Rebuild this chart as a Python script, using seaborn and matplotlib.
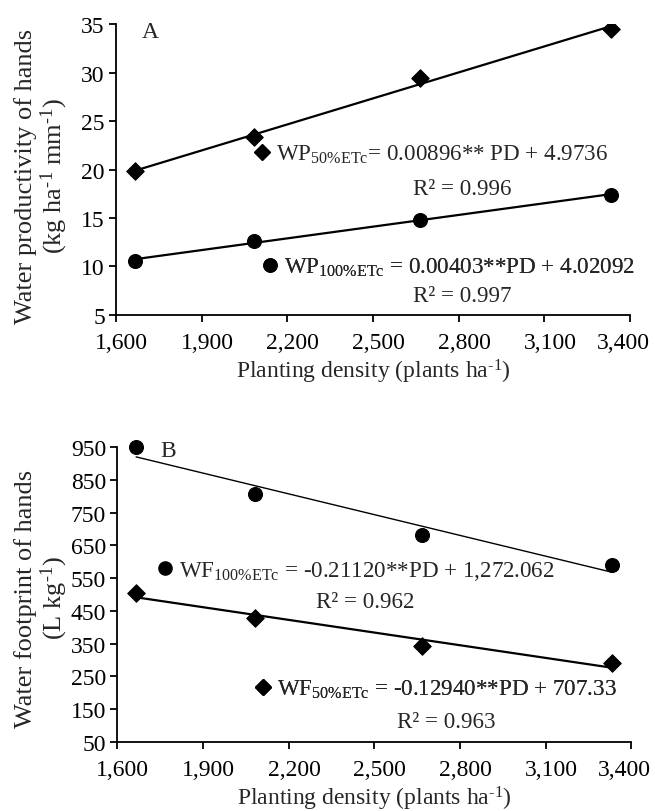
import numpy as np
import pandas as pd
import matplotlib
matplotlib.use("Agg")
import matplotlib.pyplot as plt
from matplotlib.lines import Line2D
from matplotlib.transforms import ScaledTranslation
import seaborn as sns

# ---- data ----
planting_density = [1666, 2083, 2666, 3333]
wp_50 = [19.8, 23.4, 29.4, 34.5]
wp_100 = [10.6, 12.6, 14.8, 17.4]
wf_100 = [950, 808, 681, 591]
wf_50 = [506, 430, 342, 291]

x_ticks = [1600, 1900, 2200, 2500, 2800, 3100, 3400]
x_tick_labels = ["1,600", "1,900", "2,200", "2,500", "2,800", "3,100", "3,400"]
wp_ticks = [5, 10, 15, 20, 25, 30, 35]
wf_ticks = [50, 150, 250, 350, 450, 550, 650, 750, 850, 950]

eq_wp50 = r"WP$_{\mathregular{50\%ETc}}$= 0.00896** PD + 4.9736"
r2_wp50 = "R² = 0.996"
eq_wp100 = r"WP$_{\mathregular{100\%ETc}}$ = 0.00403**PD + 4.02092"
r2_wp100 = "R² = 0.997"
eq_wf100 = r"WF$_{\mathregular{100\%ETc}}$ = -0.21120**PD + 1,272.062"
r2_wf100 = "R² = 0.962"
eq_wf50 = r"WF$_{\mathregular{50\%ETc}}$ = -0.12940**PD + 707.33"
r2_wf50 = "R² = 0.963"

SUP = r"$^{\text{-1}}$"
xlabel_txt = "Planting density (plants ha" + SUP + ")"
ylabel_a = "Water productivity of hands\n(kg ha" + SUP + " mm" + SUP + ")"
ylabel_b = "Water footprint of hands\n(L kg" + SUP + ")"

df = pd.DataFrame({"PD": planting_density, "WP50": wp_50, "WP100": wp_100,
                   "WF100": wf_100, "WF50": wf_50})

sns.set_theme(style="ticks")
plt.rcParams["font.family"] = ["Liberation Serif", "DejaVu Serif"]
plt.rcParams["mathtext.fontset"] = "custom"
plt.rcParams["mathtext.rm"] = "Liberation Serif"
plt.rcParams["mathtext.it"] = "Liberation Serif:italic"
plt.rcParams["mathtext.bf"] = "Liberation Serif:bold"

FS = 17
EQ_FS = 16.6
YL_FS = 19
fig = plt.figure(figsize=(6.55, 8.12), dpi=100)
axA = fig.add_axes([0.177, 0.611, 0.785, 0.358])
axB = fig.add_axes([0.179, 0.085, 0.785, 0.363])

def style_axis(ax):
    sns.despine(ax=ax)
    for s in ["left", "bottom"]:
        ax.spines[s].set_linewidth(1.3)
        ax.spines[s].set_color("black")
    ax.tick_params(axis="both", direction="out", length=5, width=1.3,
                   colors="black", labelsize=FS)
    ax.tick_params(axis="x", pad=7)
    ax.tick_params(axis="y", pad=3)
    ax.set_xlim(1600, 3400)
    ax.set_xticks(x_ticks)
    ax.set_xticklabels(x_tick_labels)
    labels = ax.get_xticklabels()
    for i, lab in enumerate(labels):
        dx = 4 / 72 if i < len(labels) - 1 else -5 / 72
        lab.set_transform(lab.get_transform() + ScaledTranslation(dx, 0, fig.dpi_scale_trans))
    ax.set_facecolor("white")

def add_key(ax, marker, ms, label, anchor):
    h = Line2D([], [], marker=marker, ls="none", color="black", markersize=ms)
    leg = ax.legend([h], [label], loc="center left", bbox_to_anchor=anchor,
                    frameon=False, fontsize=EQ_FS, borderpad=0, borderaxespad=0,
                    handlelength=0.6, handletextpad=0.3)
    ax.add_artist(leg)

# ---- Panel A ----
sns.regplot(data=df, x="PD", y="WP50", ax=axA, ci=None, scatter=False,
            line_kws=dict(color="black", lw=1.6))
sns.regplot(data=df, x="PD", y="WP100", ax=axA, ci=None, scatter=False,
            line_kws=dict(color="black", lw=1.6))
sns.scatterplot(data=df, x="PD", y="WP50", ax=axA, marker="D", s=80,
                color="black", edgecolor="black", zorder=3)
sns.scatterplot(data=df, x="PD", y="WP100", ax=axA, marker="o", s=100,
                color="black", edgecolor="black", zorder=3)
style_axis(axA)
axA.set_ylim(5, 35)
axA.set_yticks(wp_ticks)
axA.set_xlabel(xlabel_txt, fontsize=FS, labelpad=3)
axA.set_ylabel(ylabel_a, fontsize=YL_FS, linespacing=1.1)
axA.yaxis.set_label_coords(-0.089, 0.48)
axA.text(0.066, 0.975, "A", transform=axA.transAxes, fontsize=FS, ha="center", va="center")
add_key(axA, "D", 8.5, eq_wp50, (0.270, 0.553))
axA.text(0.673, 0.435, r2_wp50, transform=axA.transAxes, fontsize=EQ_FS, ha="center", va="center")
add_key(axA, "o", 9.5, eq_wp100, (0.286, 0.165))
axA.text(0.673, 0.068, r2_wp100, transform=axA.transAxes, fontsize=EQ_FS, ha="center", va="center")

# ---- Panel B ----
sns.regplot(data=df, x="PD", y="WF100", ax=axB, ci=None, scatter=False,
            line_kws=dict(color="black", lw=1.0))
sns.regplot(data=df, x="PD", y="WF50", ax=axB, ci=None, scatter=False,
            line_kws=dict(color="black", lw=1.6))
sns.scatterplot(data=df, x="PD", y="WF100", ax=axB, marker="o", s=100,
                color="black", edgecolor="black", zorder=3, clip_on=False)
sns.scatterplot(data=df, x="PD", y="WF50", ax=axB, marker="D", s=80,
                color="black", edgecolor="black", zorder=3)
style_axis(axB)
axB.set_ylim(50, 950)
axB.set_yticks(wf_ticks)
axB.set_xlabel(xlabel_txt, fontsize=FS, labelpad=3)
axB.set_ylabel(ylabel_b, fontsize=YL_FS, linespacing=1.1)
axB.yaxis.set_label_coords(-0.091, 0.49)
axB.text(0.099, 0.99, "B", transform=axB.transAxes, fontsize=FS, ha="center", va="center")
add_key(axB, "o", 9.5, eq_wf100, (0.080, 0.583))
axB.text(0.482, 0.475, r2_wf100, transform=axB.transAxes, fontsize=EQ_FS, ha="center", va="center")
add_key(axB, "D", 8.5, eq_wf50, (0.270, 0.180))
axB.text(0.639, 0.068, r2_wf50, transform=axB.transAxes, fontsize=EQ_FS, ha="center", va="center")

fig.savefig("out.png", dpi=100, facecolor="white")
